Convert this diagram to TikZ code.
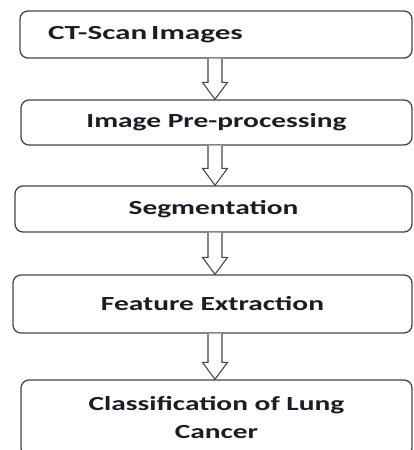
\documentclass[tikz,border=0pt]{standalone}
\usepackage{fontspec}
\setmainfont{Carlito}
\usetikzlibrary{calc}
\definecolor{txt}{RGB}{28,28,40}
\definecolor{edge}{RGB}{70,70,70}
\newcommand\boxfont{\fontsize{20pt}{28pt}\selectfont\bfseries}
\newcommand\wide[1]{\scalebox{1.47}[1]{#1}}
\tikzset{
  box/.style={draw=edge, line width=1.3pt, rounded corners=8pt, fill=white,
    font=\boxfont, text=txt, inner sep=0pt, align=center},
  bigarr/.style={draw=edge, line width=1.1pt, fill=white, line join=miter}
}
\newcommand\flowarrow[2]{%
  \draw[bigarr] let \p1=(#1.south), \p2=(#2.north) in
    (208pt,\y1) -- (208pt,\y2+17pt) -- (202.5pt,\y2+17pt) -- (215pt,\y2)
    -- (227.5pt,\y2+17pt) -- (222pt,\y2+17pt) -- (222pt,\y1);}
\begin{document}
\begin{tikzpicture}[x=1pt,y=1pt]
\useasboundingbox (0,0) rectangle (413,450);
\node[box, minimum width=392pt, minimum height=47pt, text width=336pt, align=left] (b1) at (216,415.5) {\scalebox{1.56}[1]{CT-Scan\hspace{2.5pt}Images}};
\node[box, minimum width=391pt, minimum height=45pt] (b2) at (216.5,327.5) {\wide{Image Pre-processing}};
\node[box, minimum width=397pt, minimum height=46pt] (b3) at (213.5,241) {\wide{Segmentation}};
\node[box, minimum width=399pt, minimum height=58pt] (b4) at (212.5,146) {\wide{Feature Extraction}};
\node[box, minimum width=391pt, minimum height=76pt] (b5) at (216.5,32) {\wide{Classification of Lung}\\\wide{Cancer}};
\flowarrow{b1}{b2}
\flowarrow{b2}{b3}
\flowarrow{b3}{b4}
\flowarrow{b4}{b5}
\end{tikzpicture}
\end{document}
